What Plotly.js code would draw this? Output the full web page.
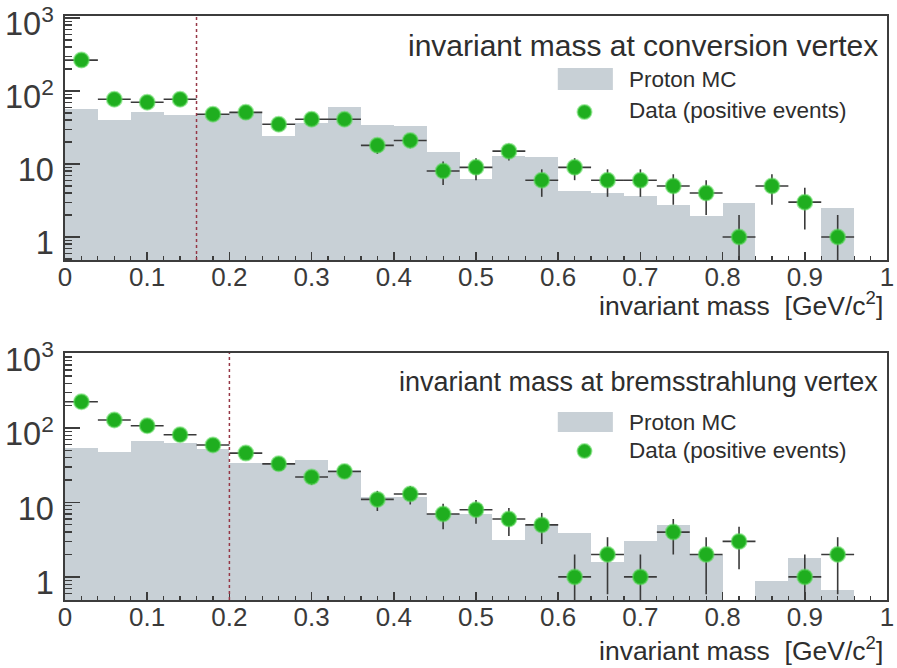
<!DOCTYPE html>
<html>
<head>
<meta charset="utf-8">
<script src="https://cdn.plot.ly/plotly-3.0.1.min.js"></script>
<style>
  html, body { margin: 0; padding: 0; background: #ffffff; }
  #chart { width: 897px; height: 668px; }
</style>
</head>
<body>
<div id="chart"></div>
<script>
// Bin centres of the invariant-mass histograms [GeV/c^2], bin width 0.04
const massBins = [0.02, 0.06, 0.10, 0.14, 0.18, 0.22, 0.26, 0.30, 0.34, 0.38, 0.42, 0.46,
                  0.50, 0.54, 0.58, 0.62, 0.66, 0.70, 0.74, 0.78, 0.82, 0.86, 0.90, 0.94];
const binWidth = 0.04;

// Top panel: invariant mass at conversion vertex
const convData = [265, 77, 70, 77, 48, 51, 35, 41, 41, 18, 21, 8,
                  9, 15, 6, 9, 6, 6, 5, 4, 1, 5, 3, 1];
const convMC   = [56, 40, 52, 47, 49, 52, 24, 36, 60, 34, 33, 14.7,
                  6.2, 13, 12.5, 4.2, 4.0, 3.6, 2.75, 1.95, 2.95, null, null, 2.5];

// Bottom panel: invariant mass at bremsstrahlung vertex
const bremData = [225, 128, 107, 81, 59, 46, 33, 22, 26, 11, 13, 7,
                  8, 6, 5, 1, 2, 1, 4, 2, 3, null, 1, 2];
const bremMC   = [54, 48, 67, 62, 52, 34, 34, 37, 27, 12, 12, 7,
                  7, 3.1, 5, 3.9, 1.6, 3.0, 5.0, 2.0, null, 0.87, 1.8, 0.67];

// Selection cuts (dotted lines)
const cutConv = 0.16;
const cutBrem = 0.20;

const panelTitles = ['invariant mass at conversion vertex', 'invariant mass at bremsstrahlung vertex'];
const legendNames = ['Proton MC', 'Data (positive events)'];
const xTitle = 'invariant mass  [GeV/c<sup>2</sup>]';

const mcColor = '#c8d0d6';
const dataColor = '#1fae1f';
const errColor = '#3a3a3a';
const axisColor = '#3c3c3c';
const textColor = '#2e2e2e';
const FONT = 'Liberation Sans, Arial, Helvetica, sans-serif';

function mcTrace(vals, xa, ya, name) {
  return {
    type: 'bar', x: massBins, y: vals, width: binWidth,
    xaxis: xa, yaxis: ya, name: name, showlegend: false,
    marker: { color: mcColor, line: { width: 0 } },
    hoverinfo: 'x+y'
  };
}
function dataTrace(vals, xa, ya, name) {
  return {
    type: 'scatter', mode: 'markers', x: massBins, y: vals,
    xaxis: xa, yaxis: ya, name: name, showlegend: false,
    marker: { color: dataColor, size: 15, line: { color: 'rgba(90,215,90,0.55)', width: 2 } },
    error_x: { type: 'constant', value: binWidth / 2, width: 0, thickness: 1.6, color: errColor },
    error_y: { type: 'data', array: vals.map(v => (v == null ? null : Math.sqrt(v))), width: 0, thickness: 1.6, color: errColor }
  };
}

const traces = [
  mcTrace(convMC, 'x', 'y', legendNames[0]),
  dataTrace(convData, 'x', 'y', legendNames[1]),
  mcTrace(bremMC, 'x2', 'y2', legendNames[0]),
  dataTrace(bremData, 'x2', 'y2', legendNames[1])
];

function xAxis(anchor) {
  return {
    anchor: anchor, range: [0, 1], dtick: 0.1, tick0: 0,
    ticks: 'inside', ticklen: 8, tickwidth: 1.5, tickcolor: axisColor,
    minor: { dtick: 0.02, ticks: 'inside', ticklen: 4, tickwidth: 1.2, tickcolor: axisColor, showgrid: false },
    showline: true, linecolor: axisColor, linewidth: 2, mirror: true,
    showgrid: false, zeroline: false,
    ticklabelstandoff: -7,
    ticklabeloverflow: 'allow',
    tickfont: { family: FONT, size: 26, color: '#3a3a3a' }
  };
}
function yAxis(anchor, domain, range) {
  return {
    anchor: anchor, domain: domain, type: 'log', range: range,
    dtick: 1, tick0: 0, exponentformat: 'power',
    ticks: 'inside', ticklen: 15, tickwidth: 1.5, tickcolor: axisColor,
    minor: { dtick: 'D1', ticks: 'inside', ticklen: 7, tickwidth: 1.2, tickcolor: axisColor, showgrid: false },
    showline: true, linecolor: axisColor, linewidth: 2, mirror: true,
    showgrid: false, zeroline: false,
    ticklabelstandoff: 4,
    ticklabelshift: 6,
    ticklabeloverflow: 'allow',
    tickfont: { family: FONT, size: 26, color: '#3a3a3a' }
  };
}

// paper layout: plot area px x 65..887, y 16..600 (height 584)
const topDomain = [0.5822, 1.0];
const botDomain = [0.0, 0.4229];

function panelDecor(xa, ya, title, titleSize, yTitle, swY, dotY, txtY, axTitleY, cut) {
  const xd = xa + ' domain', yd = ya + ' domain';
  const ann = [
    { xref: xd, yref: yd, x: 0.9915, y: yTitle, xanchor: 'right', yanchor: 'middle', showarrow: false,
      text: title, font: { family: FONT, size: titleSize, color: textColor } },
    { xref: xd, yref: yd, x: 0.684, y: txtY[0], xanchor: 'left', yanchor: 'middle', showarrow: false,
      text: legendNames[0], font: { family: FONT, size: 22.5, color: textColor } },
    { xref: xd, yref: yd, x: 0.684, y: txtY[1], xanchor: 'left', yanchor: 'middle', showarrow: false,
      text: legendNames[1], font: { family: FONT, size: 22.5, color: textColor } },
    { xref: xd, yref: yd, x: 0.9976, y: axTitleY, xanchor: 'right', yanchor: 'middle', showarrow: false,
      text: xTitle, font: { family: FONT, size: 26.5, color: textColor } }
  ];
  const shp = [
    { type: 'rect', xref: xd, yref: yd, x0: 0.5995, x1: 0.6665, y0: swY[0], y1: swY[1],
      fillcolor: mcColor, line: { width: 0 } },
    { type: 'circle', xref: xd, yref: yd, xsizemode: 'pixel', ysizemode: 'pixel',
      xanchor: 0.632, yanchor: dotY, x0: -7, x1: 7, y0: -7, y1: 7,
      fillcolor: dataColor, line: { color: 'rgba(90,215,90,0.55)', width: 2 } },
    { type: 'line', xref: xa, yref: yd, x0: cut, x1: cut, y0: 0, y1: 1,
      line: { color: 'rgb(150,55,70)', width: 1.5, dash: 'dot' } }
  ];
  return { ann, shp };
}

const d1 = panelDecor('x', 'y', panelTitles[0], 30, 0.881, [0.697, 0.787], 0.6066, [0.738, 0.611], -0.18, cutConv);
const d2 = panelDecor('x2', 'y2', panelTitles[1], 27, 0.8826, [0.680, 0.761], 0.603, [0.7206, 0.607], -0.198, cutBrem);

const layout = {
  width: 897, height: 668,
  margin: { l: 65, r: 10, t: 16, b: 68, pad: 0 },
  paper_bgcolor: '#ffffff', plot_bgcolor: '#ffffff',
  font: { family: FONT, color: textColor },
  showlegend: false,
  bargap: 0,
  xaxis: xAxis('y'),
  yaxis: yAxis('x', topDomain, [-0.315, 3.027]),
  xaxis2: xAxis('y2'),
  yaxis2: yAxis('x2', botDomain, [-0.31, 3.007]),
  annotations: d1.ann.concat(d2.ann),
  shapes: d1.shp.concat(d2.shp)
};

Plotly.newPlot('chart', traces, layout, { displayModeBar: false, staticPlot: true });
</script>
</body>
</html>
